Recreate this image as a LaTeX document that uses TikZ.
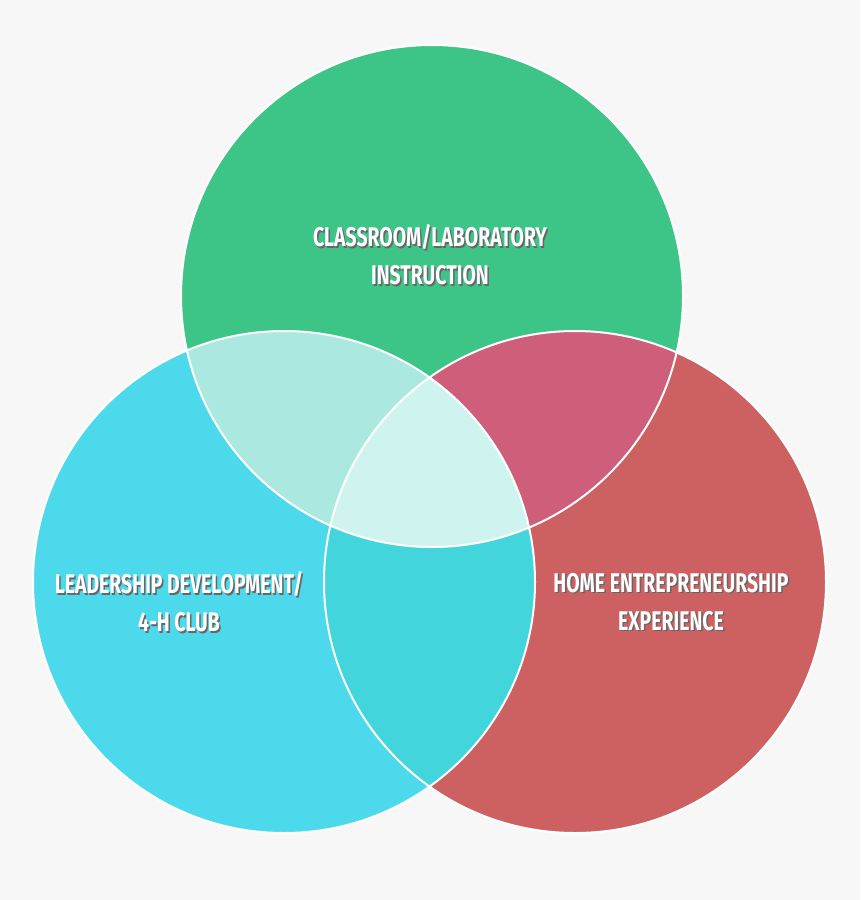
\documentclass[tikz,border=0pt]{standalone}
\usepackage{fontspec}
\setmainfont{Fira Sans}[FakeStretch=0.72]
\definecolor{bg}{HTML}{F7F7F8}
\definecolor{cg}{HTML}{3DC587}
\definecolor{cc}{HTML}{4CD9EC}
\definecolor{cr}{HTML}{CD6060}
\definecolor{cgc}{HTML}{ABE9E0}
\definecolor{cgr}{HTML}{CF5E7A}
\definecolor{ccr}{HTML}{42D6DC}
\definecolor{call}{HTML}{CFF4F0}
\tikzset{lab/.style={align=center,text=white,font=\fontsize{27}{38}\selectfont\bfseries},
 shad/.style={align=center,text=black!60,font=\fontsize{27}{38}\selectfont\bfseries}}
\newcommand{\lbl}[3]{\node[shad] at ([xshift=1.5pt,yshift=-1.5pt]#1) {#3};\node[lab] (#2) at (#1) {#3};}
\begin{document}
\begin{tikzpicture}[x=1pt,y=-1pt]
\fill[bg] (0,0) rectangle (860,900);
\useasboundingbox (0,0) rectangle (860,900);
\def\R{251}
\coordinate (T) at (432,296);
\coordinate (L) at (284,582);
\coordinate (Rr) at (575,582);
\fill[cg] (T) circle (\R);
\fill[cc] (L) circle (\R);
\fill[cr] (Rr) circle (\R);
\begin{scope}\clip (T) circle (\R); \fill[cgc] (L) circle (\R);\end{scope}
\begin{scope}\clip (T) circle (\R); \fill[cgr] (Rr) circle (\R);\end{scope}
\begin{scope}\clip (L) circle (\R); \fill[ccr] (Rr) circle (\R);\end{scope}
\begin{scope}\clip (L) circle (\R); \clip (Rr) circle (\R); \fill[call] (T) circle (\R);\end{scope}
\draw[white,line width=2pt] (T) circle (\R) (L) circle (\R) (Rr) circle (\R);
\lbl{430,255}{a}{CLASSROOM/LABORATORY\\INSTRUCTION}
\lbl{179,602}{b}{LEADERSHIP DEVELOPMENT/\\4-H CLUB}
\lbl{671,602}{c}{HOME ENTREPRENEURSHIP\\EXPERIENCE}
\end{tikzpicture}
\end{document}
